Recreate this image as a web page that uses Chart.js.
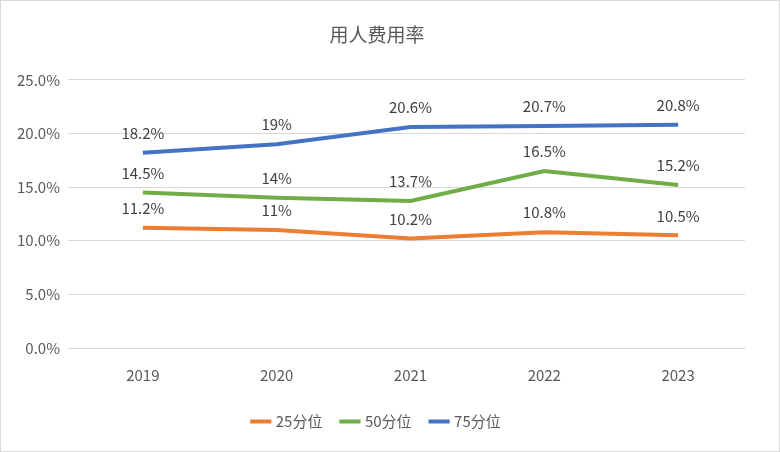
<!DOCTYPE html>
<html><head><meta charset="utf-8">
<script src="https://cdn.jsdelivr.net/npm/chart.js@4/dist/chart.umd.min.js"></script>
<style>html,body{margin:0;padding:0;background:#fff}#w{width:778px;height:450px;border:1px solid #d9d9d9}</style>
</head><body><div id="w"><canvas id="c"></canvas></div>
<script>
const categories=['2019','2020','2021','2022','2023'];
const p25=[11.2,11,10.2,10.8,10.5];
const p50=[14.5,14,13.7,16.5,15.2];
const p75=[18.2,19,20.6,20.7,20.8];
const yTicks=[0,5,10,15,20,25];
const F='"Microsoft YaHei","Noto Sans CJK SC","DejaVu Sans",sans-serif';
const labelPlugin={id:'lbl',afterDatasetsDraw(ch){const ctx=ch.ctx;ctx.save();ctx.font='15px '+F;ctx.fillStyle='#404040';ctx.textAlign='center';ctx.textBaseline='bottom';
ch.data.datasets.forEach((ds,i)=>{ch.getDatasetMeta(i).data.forEach((pt,j)=>{ctx.fillText(ds.data[j]+'%',pt.x,pt.y-12);});});ctx.restore();}};
new Chart(document.getElementById('c'),{type:'line',
data:{labels:categories,datasets:[
{label:'25分位',data:p25,borderColor:'#ED7D31',backgroundColor:'#ED7D31'},
{label:'50分位',data:p50,borderColor:'#70AD47',backgroundColor:'#70AD47'},
{label:'75分位',data:p75,borderColor:'#4472C4',backgroundColor:'#4472C4'}]},
options:{responsive:true,maintainAspectRatio:false,animation:false,
elements:{line:{borderWidth:4,tension:0},point:{radius:0}},
layout:{padding:{left:8,right:34,top:8,bottom:12}},
plugins:{title:{display:true,text:'用人费用率',color:'#595959',font:{family:F,size:19,weight:'normal'},padding:{top:14,bottom:34}},
legend:{position:'bottom',labels:{usePointStyle:true,pointStyle:'line',boxWidth:40,color:'#595959',font:{family:F,size:15},padding:20,
generateLabels(ch){return ch.data.datasets.map((d,i)=>({text:d.label,fillStyle:d.borderColor,strokeStyle:d.borderColor,lineWidth:4,pointStyle:'line',fontColor:'#595959',datasetIndex:i,hidden:false}));}}},
tooltip:{enabled:false}},
scales:{x:{offset:true,grid:{display:false},border:{color:'#d9d9d9'},ticks:{color:'#595959',font:{family:F,size:15},padding:10}},
y:{min:0,max:25,afterBuildTicks(a){a.ticks=yTicks.map(v=>({value:v}));},grid:{color:'#d9d9d9'},border:{display:false},ticks:{color:'#595959',font:{family:F,size:15},callback:v=>v.toFixed(1)+'%',padding:8}}}},
plugins:[labelPlugin]});
</script></body></html>
